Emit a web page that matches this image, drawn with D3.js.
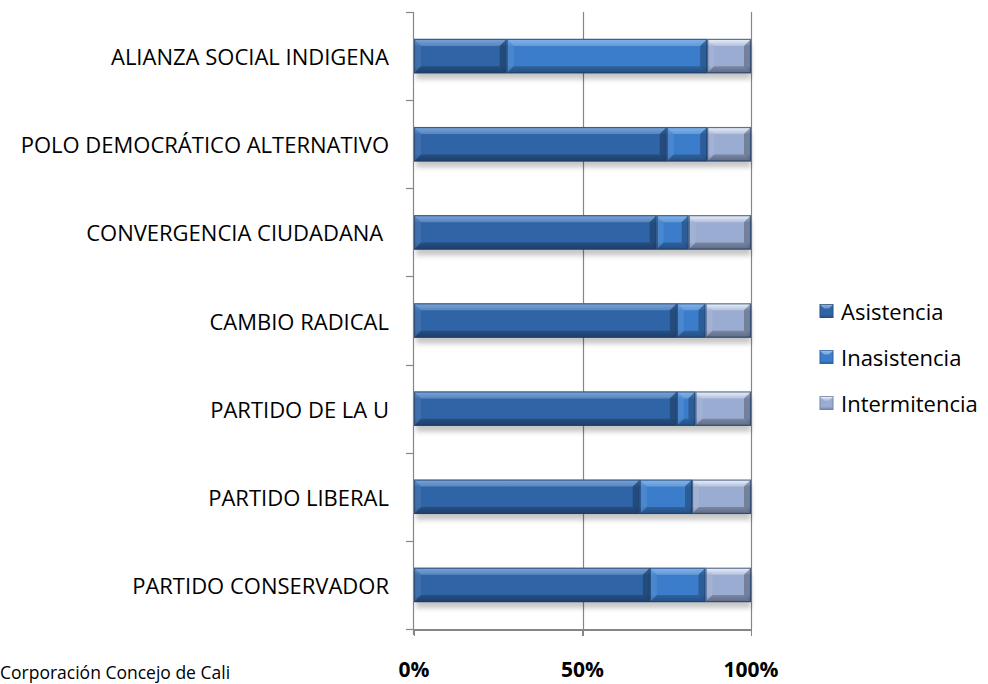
<html>
<head>
	<meta charset="utf-8">
	<title>Asistencia por partido</title>
</head>
<style>
	body { margin: 0; background: #ffffff; }
	.axis path, .axis line { fill: none; stroke: #868686; shape-rendering: crispEdges; }
	.catText { font-family: "Open Sans", sans-serif; font-size: 22px; fill: #000; }
	.tickText { font-family: "Open Sans", sans-serif; font-size: 21px; font-weight: bold; fill: #000; }
	.legText { font-family: "Open Sans", sans-serif; font-size: 22px; fill: #000; }
	.srcText { font-family: "Open Sans", sans-serif; font-size: 17.5px; fill: #000; }
</style>
<body>
	<script src="https://cdn.jsdelivr.net/npm/d3@7"></script>
	<script>
	// datos (porcentaje de sesiones)
	var categories = ["ALIANZA SOCIAL INDIGENA", "POLO DEMOCRÁTICO ALTERNATIVO", "CONVERGENCIA CIUDADANA\u00a0", "CAMBIO RADICAL", "PARTIDO DE LA U", "PARTIDO LIBERAL", "PARTIDO CONSERVADOR"];
	var asistencia = [27.5, 75, 72, 78, 78, 67, 70];
	var inasistencia = [59.5, 12, 9.5, 8.5, 5.5, 15.5, 16.5];
	var intermitencia = [13, 13, 18.5, 13.5, 16.5, 17.5, 13.5];
	var seriesNames = ["Asistencia", "Inasistencia", "Intermitencia"];
	var tickLabels = ["0%", "50%", "100%"];

	var width = 988, height = 684;
	var svg = d3.select("body").append("svg")
		.attr("width", width)
		.attr("height", height);

	var rows = categories.map(function(c, i){
		return {cat: c, Asistencia: asistencia[i], Inasistencia: inasistencia[i], Intermitencia: intermitencia[i]};
	});
	var stacked = d3.stack().keys(seriesNames).offset(d3.stackOffsetExpand)(rows);

	var x = d3.scaleLinear().domain([0, 1]).range([414, 751]);
	var y = d3.scaleBand().domain(categories).range([12, 629]).paddingInner(0.61).paddingOuter(0.305);
	var yTicks = d3.scaleBand().domain(categories).range([12, 629]);

	// colores: [claro, base, oscuro]
	var colors = {
		"Asistencia":    {top: "#5590d6", mid: "#2f64a6", bot: "#264f86"},
		"Inasistencia":  {top: "#64a4ea", mid: "#3b7dca", bot: "#2e62a2"},
		"Intermitencia": {top: "#eaf0fb", mid: "#9bacd2", bot: "#7684a4"}
	};

	var defs = svg.append("defs");
	seriesNames.forEach(function(s){
		var g = defs.append("linearGradient").attr("id", "g_" + s)
			.attr("x1", 0).attr("y1", 0).attr("x2", 0).attr("y2", 1);
		g.append("stop").attr("offset", "0%").attr("stop-color", colors[s].top);
		g.append("stop").attr("offset", "22%").attr("stop-color", colors[s].mid);
		g.append("stop").attr("offset", "78%").attr("stop-color", colors[s].mid);
		g.append("stop").attr("offset", "100%").attr("stop-color", colors[s].bot);
	});
	var blur = defs.append("filter").attr("id", "shadow")
		.attr("x", "-5%").attr("y", "-50%").attr("width", "110%").attr("height", "200%");
	blur.append("feGaussianBlur").attr("stdDeviation", 2.5);

	// cuadricula vertical
	svg.append("g").selectAll("line")
		.data([0.5, 1])
		.enter().append("line")
		.attr("x1", function(d){ return Math.round(x(d)) + 0.5; })
		.attr("x2", function(d){ return Math.round(x(d)) + 0.5; })
		.attr("y1", 12).attr("y2", 629)
		.attr("stroke", "#868686").attr("stroke-width", 1.2);

	// sombras
	svg.append("g").selectAll("rect")
		.data(categories)
		.enter().append("rect")
		.attr("x", x(0) + 2)
		.attr("y", function(d){ return y(d) + 6; })
		.attr("width", x(1) - x(0) - 2)
		.attr("height", y.bandwidth())
		.attr("fill", "#000")
		.attr("opacity", 0.22)
		.attr("filter", "url(#shadow)");

	// barras con bisel
	var bev = 7;
	var segs = svg.append("g").selectAll("g.serie")
		.data(stacked)
		.enter().append("g").attr("class", "serie")
		.selectAll("g")
		.data(function(s){ return s.map(function(d){ return {key: s.key, x0: d[0], x1: d[1], cat: d.data.cat}; }); })
		.enter().append("g");

	segs.append("rect")
		.attr("x", function(d){ return x(d.x0); })
		.attr("y", function(d){ return y(d.cat); })
		.attr("width", function(d){ return x(d.x1) - x(d.x0); })
		.attr("height", y.bandwidth())
		.attr("fill", function(d){ return "url(#g_" + d.key + ")"; });

	function facet(d, side){
		var l = x(d.x0), r = x(d.x1), t = y(d.cat), b = t + y.bandwidth();
		var b2 = Math.min(bev, (r - l) / 2);
		var p;
		if (side == "top") p = [[l, t], [r, t], [r - b2, t + bev], [l + b2, t + bev]];
		if (side == "bot") p = [[l, b], [r, b], [r - b2, b - bev], [l + b2, b - bev]];
		if (side == "left") p = [[l, t], [l + b2, t + bev], [l + b2, b - bev], [l, b]];
		if (side == "right") p = [[r, t], [r - b2, t + bev], [r - b2, b - bev], [r, b]];
		return p.map(function(q){ return q.join(","); }).join(" ");
	}
	[["top", "#ffffff", 0.2], ["bot", "#000000", 0.2], ["left", "#ffffff", 0.08], ["right", "#000000", 0.25]].forEach(function(f){
		segs.append("polygon")
			.attr("points", function(d){ return facet(d, f[0]); })
			.attr("fill", f[1])
			.attr("opacity", f[2]);
	});
	segs.append("rect")
		.attr("x", function(d){ return x(d.x0) + 0.5; })
		.attr("y", function(d){ return y(d.cat) + 0.5; })
		.attr("width", function(d){ return x(d.x1) - x(d.x0) - 1; })
		.attr("height", y.bandwidth() - 1)
		.attr("fill", "none")
		.attr("stroke", "#1f3d66")
		.attr("stroke-opacity", 0.7)
		.attr("stroke-width", 1.2);

	// eje vertical con marcas entre categorias
	var bounds = categories.map(function(c){ return yTicks(c); }).concat([629]);
	svg.append("line")
		.attr("x1", 413.5).attr("x2", 413.5).attr("y1", 12).attr("y2", 635)
		.attr("stroke", "#868686").attr("stroke-width", 1.2);
	svg.append("g").selectAll("line")
		.data(bounds)
		.enter().append("line")
		.attr("x1", 406).attr("x2", 413)
		.attr("y1", function(d){ return Math.round(d) + 0.5; })
		.attr("y2", function(d){ return Math.round(d) + 0.5; })
		.attr("stroke", "#868686").attr("stroke-width", 1.2);

	// eje horizontal
	var xAxis = d3.axisBottom(x).tickValues([0, 0.5, 1]).tickSize(6).tickFormat("");
	svg.append("g").attr("class", "axis")
		.attr("transform", "translate(0,629.5)")
		.call(xAxis);
	svg.selectAll(".axis path").attr("stroke-width", 1.2);
	svg.selectAll(".axis line").attr("stroke-width", 1.2);
	svg.append("g").selectAll("text")
		.data([0, 0.5, 1])
		.enter().append("text")
		.attr("class", "tickText")
		.attr("x", function(d){ return x(d); })
		.attr("y", 669)
		.attr("text-anchor", "middle")
		.attr("dominant-baseline", "central")
		.text(function(d, i){ return tickLabels[i]; });

	// etiquetas de categorias
	svg.append("g").selectAll("text")
		.data(categories)
		.enter().append("text")
		.attr("class", "catText")
		.attr("x", 389)
		.attr("y", function(d){ return y(d) + y.bandwidth() / 2; })
		.attr("text-anchor", "end")
		.attr("dominant-baseline", "central")
		.text(function(d){ return d; });

	// leyenda
	var leg = svg.append("g").selectAll("g")
		.data(seriesNames)
		.enter().append("g")
		.attr("transform", function(d, i){ return "translate(820," + (311 + i * 46) + ")"; });
	leg.append("rect")
		.attr("x", 0).attr("y", -6.5).attr("width", 13).attr("height", 13)
		.attr("fill", function(d){ return "url(#g_" + d + ")"; })
		.attr("stroke", function(d){ return colors[d].bot; });
	leg.append("polygon")
		.attr("points", "0,-6.5 13,-6.5 9,-2.5 4,-2.5")
		.attr("fill", "#fff").attr("opacity", 0.35);
	leg.append("text")
		.attr("class", "legText")
		.attr("x", 21)
		.attr("y", 0)
		.attr("dominant-baseline", "central")
		.text(function(d){ return d; });

	// fuente
	svg.append("text")
		.attr("class", "srcText")
		.attr("x", 0)
		.attr("y", 672)
		.attr("dominant-baseline", "central")
		.text("Corporación Concejo de Cali");
	</script>
</body>
</html>
